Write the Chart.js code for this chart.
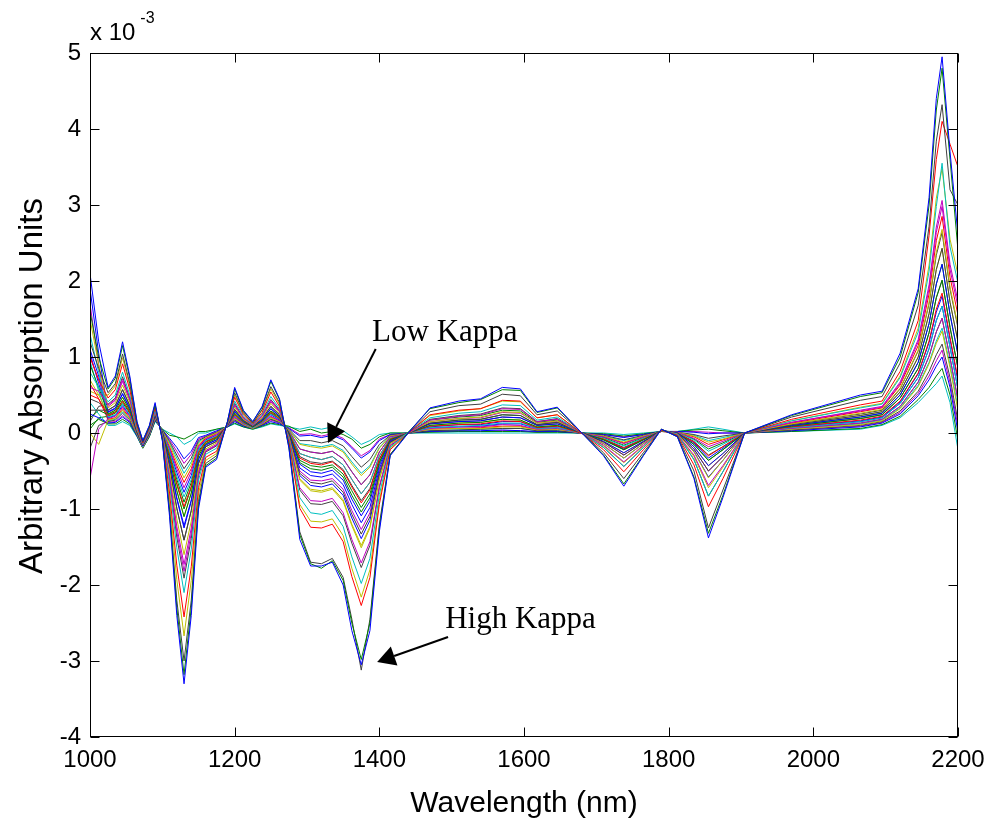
<!DOCTYPE html>
<html>
<head>
<meta charset="utf-8">
<title>NIR difference spectra</title>
<script src="https://cdn.jsdelivr.net/npm/chart.js@4.4.1/dist/chart.umd.min.js"></script>
<style>
  html, body { margin: 0; padding: 0; background: #ffffff; }
  canvas { display: block; }
</style>
</head>
<body>
<canvas id="spectra" width="1000" height="824"></canvas>
<script>
// Wavelength grid (nm)
const wavelength = [
  1000,1012,1025,1035,1045,1055,1065,1073,1082,1090,
  1100,1110,1120,1130,1140,1150,1160,1175,1190,1200,
  1212,1225,1238,1250,1262,1275,1290,1305,1320,1335,
  1350,1362,1375,1387,1400,1415,1440,1470,1510,1540,
  1570,1595,1618,1646,1678,1710,1738,1765,1790,1812,
  1835,1855,1875,1905,1970,2065,2095,2120,2145,2160,
  2170,2178,2189,2200
];

// Absorption spectra, units of 1e-3
const s01 = [2.1,1.2,0.6,0.75,1.2,0.75,0.15,-0.1,0.1,0.4, -0.1,-1.1,-2.4,-3.3,-2.4,-1.0,-0.45,-0.35,0.15,0.6, 0.3,0.15,0.35,0.7,0.45,-0.2,-1.4,-1.75,-1.75,-1.7, -2.0,-2.6,-3.05,-2.6,-1.3,-0.3,0.0,0.33,0.42,0.45, 0.6,0.58,0.28,0.34,0.02,-0.3,-0.7,-0.3,0.05,-0.05, -0.6,-1.38,-0.85,0.0,0.24,0.5,0.55,1.05,1.9,3.1, 4.4,4.95,3.7,2.6];
const s02 = [1.6,1.0,0.58,0.72,1.15,0.72,0.14,-0.1,0.09,0.38, -0.09,-1.05,-2.3,-3.18,-2.3,-0.96,-0.43,-0.33,0.15,0.58, 0.29,0.15,0.34,0.68,0.44,-0.19,-1.34,-1.72,-1.78,-1.68, -1.94,-2.5,-2.98,-2.5,-1.25,-0.29,0.01,0.32,0.4,0.44, 0.57,0.56,0.27,0.33,0.02,-0.29,-0.67,-0.29,0.05,-0.05, -0.58,-1.32,-0.82,0.0,0.23,0.48,0.53,1.0,1.85,3.0, 4.25,4.8,3.6,2.4];
const s03 = [1.2,0.85,0.53,0.65,1.04,0.65,0.12,-0.12,0.08,0.36, -0.08,-1.0,-2.2,-3.0,-2.2,-0.9,-0.4,-0.3,0.14,0.53, 0.27,0.13,0.31,0.61,0.4,-0.16,-1.3,-1.7,-1.72,-1.65, -1.9,-2.45,-3.12,-2.45,-1.2,-0.28,0.0,0.28,0.36,0.38, 0.51,0.49,0.24,0.29,0.02,-0.26,-0.6,-0.26,0.05,-0.04, -0.5,-1.25,-0.75,0.0,0.21,0.43,0.48,0.92,1.68,2.72, 3.84,4.32,3.2,3.0];
const s04 = [1.0,0.7,0.46,0.57,0.91,0.57,0.09,-0.13,0.06,0.33, -0.06,-0.79,-1.74,-2.42,-1.76,-0.72,-0.32,-0.24,0.13,0.47, 0.24,0.12,0.27,0.54,0.35,-0.12,-0.99,-1.24,-1.25,-1.2, -1.43,-1.89,-2.27,-1.9,-0.94,-0.22,0.0,0.24,0.3,0.32, 0.43,0.42,0.2,0.24,0.01,-0.22,-0.51,-0.22,0.04,-0.03, -0.42,-0.97,-0.6,0.0,0.18,0.37,0.42,0.81,1.48,2.6, 3.6,4.1,3.8,3.5];
const s05 = [0.8,0.6,0.41,0.5,0.8,0.5,0.07,-0.14,0.04,0.3, -0.04,-0.68,-1.51,-2.1,-1.53,-0.62,-0.28,-0.2,0.12,0.42, 0.22,0.11,0.25,0.48,0.32,-0.09,-0.85,-1.05,-1.07,-1.02, -1.23,-1.63,-1.98,-1.65,-0.81,-0.19,0.01,0.2,0.26,0.28, 0.37,0.36,0.17,0.21,0.01,-0.19,-0.44,-0.19,0.04,-0.02, -0.35,-0.83,-0.51,0.0,0.16,0.33,0.38,0.73,1.33,2.13, 2.98,3.55,2.45,1.97];
const s06 = [0.6,0.55,0.37,0.44,0.71,0.44,0.06,-0.15,0.03,0.28, -0.03,-0.58,-1.3,-1.82,-1.32,-0.53,-0.24,-0.16,0.12,0.37, 0.2,0.1,0.22,0.43,0.29,-0.07,-0.72,-0.89,-0.9,-0.86, -1.05,-1.4,-1.71,-1.43,-0.7,-0.16,0.0,0.17,0.22,0.24, 0.32,0.31,0.15,0.18,0.01,-0.16,-0.38,-0.16,0.04,-0.02, -0.29,-0.69,-0.43,0.0,0.14,0.29,0.34,0.65,1.2,1.9, 2.64,2.98,2.15,1.66];
const s07 = [1.5,0.9,0.33,0.4,0.63,0.4,0.04,-0.15,0.02,0.27, -0.02,-0.51,-1.13,-1.6,-1.16,-0.46,-0.21,-0.13,0.11,0.34, 0.18,0.1,0.2,0.39,0.26,-0.05,-0.62,-0.76,-0.78,-0.74, -0.9,-1.22,-1.51,-1.25,-0.61,-0.14,0.0,0.15,0.19,0.21, 0.28,0.27,0.13,0.16,0.01,-0.14,-0.33,-0.14,0.03,-0.01, -0.25,-0.59,-0.36,0.0,0.12,0.26,0.31,0.59,1.09,1.72, 2.38,2.68,1.92,1.41];
const s08 = [0.3,0.3,0.3,0.36,0.57,0.36,0.03,-0.16,0.01,0.25, -0.01,-0.44,-0.99,-1.41,-1.02,-0.4,-0.18,-0.11,0.11,0.31, 0.17,0.09,0.19,0.35,0.24,-0.03,-0.53,-0.65,-0.67,-0.63, -0.78,-1.07,-1.33,-1.1,-0.53,-0.12,0.0,0.13,0.17,0.18, 0.24,0.23,0.11,0.14,0.01,-0.12,-0.29,-0.12,0.03,-0.01, -0.21,-0.5,-0.31,0.0,0.11,0.23,0.28,0.54,1.0,1.57, 2.15,2.43,1.72,1.2];
const s09 = [1.9,1.05,0.28,0.33,0.52,0.33,0.02,-0.17,0.0,0.24, 0.0,-0.39,-0.87,-1.25,-0.9,-0.35,-0.16,-0.09,0.1,0.29, 0.16,0.09,0.17,0.32,0.22,-0.02,-0.46,-0.56,-0.58,-0.54, -0.68,-0.94,-1.18,-0.98,-0.47,-0.11,0.0,0.12,0.15,0.16, 0.21,0.2,0.1,0.12,0.01,-0.11,-0.26,-0.11,0.03,0.0, -0.18,-0.43,-0.27,0.0,0.1,0.21,0.26,0.5,0.93,1.44, 1.96,2.22,1.56,1.03];
const s10 = [0.9,0.6,0.25,0.3,0.47,0.3,0.01,-0.17,0.0,0.23, 0.01,-0.33,-0.76,-1.1,-0.79,-0.3,-0.14,-0.07,0.1,0.26, 0.15,0.08,0.16,0.29,0.21,0.0,-0.39,-0.47,-0.49,-0.45, -0.58,-0.82,-1.04,-0.85,-0.4,-0.09,0.0,0.1,0.13,0.14, 0.18,0.17,0.08,0.1,0.01,-0.09,-0.22,-0.09,0.03,0.0, -0.15,-0.36,-0.22,0.0,0.09,0.19,0.24,0.46,0.85,1.32, 1.78,2.01,1.39,0.85];
const s11 = [0.5,0.45,0.23,0.27,0.42,0.27,0.0,-0.17,-0.01,0.22, 0.01,-0.29,-0.66,-0.97,-0.7,-0.26,-0.12,-0.05,0.1,0.24, 0.14,0.08,0.15,0.27,0.19,0.01,-0.33,-0.4,-0.42,-0.38, -0.5,-0.71,-0.92,-0.75,-0.35,-0.08,0.0,0.09,0.11,0.12, 0.16,0.15,0.07,0.09,0.0,-0.08,-0.2,-0.08,0.03,0.0, -0.12,-0.3,-0.18,0.0,0.08,0.17,0.22,0.42,0.79,1.21, 1.63,1.84,1.26,0.71];
const s12 = [1.3,0.8,0.21,0.24,0.38,0.24,-0.01,-0.18,-0.02,0.21, 0.02,-0.24,-0.57,-0.84,-0.61,-0.22,-0.1,-0.04,0.1,0.23, 0.13,0.07,0.14,0.25,0.18,0.02,-0.27,-0.32,-0.35,-0.31, -0.42,-0.61,-0.8,-0.65,-0.3,-0.07,0.0,0.07,0.09,0.1, 0.13,0.13,0.06,0.07,0.0,-0.07,-0.17,-0.07,0.03,0.0, -0.09,-0.24,-0.15,0.0,0.07,0.15,0.2,0.39,0.73,1.11, 1.48,1.67,1.13,0.57];
const s13 = [-0.6,0.05,0.19,0.22,0.34,0.22,-0.01,-0.18,-0.02,0.2, 0.02,-0.2,-0.47,-0.72,-0.51,-0.18,-0.08,-0.02,0.09,0.21, 0.12,0.07,0.13,0.22,0.16,0.03,-0.21,-0.25,-0.27,-0.24, -0.34,-0.51,-0.68,-0.55,-0.25,-0.05,0.0,0.06,0.08,0.08, 0.11,0.1,0.05,0.06,0.0,-0.05,-0.14,-0.05,0.02,0.01, -0.07,-0.18,-0.11,0.0,0.06,0.13,0.18,0.35,0.67,1.01, 1.33,1.51,0.99,0.43];
const s14 = [0.0,-0.15,0.17,0.19,0.3,0.19,-0.02,-0.19,-0.03,0.19, 0.03,-0.15,-0.38,-0.59,-0.42,-0.14,-0.06,0.0,0.09,0.19, 0.11,0.06,0.12,0.2,0.15,0.04,-0.15,-0.18,-0.2,-0.17, -0.25,-0.41,-0.56,-0.45,-0.2,-0.04,0.0,0.05,0.06,0.06, 0.08,0.08,0.04,0.05,0.0,-0.04,-0.12,-0.04,0.02,0.01, -0.04,-0.12,-0.08,0.0,0.05,0.11,0.16,0.32,0.61,0.91, 1.18,1.34,0.86,0.29];
const s15 = [-0.2,0.1,0.15,0.17,0.26,0.17,-0.03,-0.19,-0.04,0.18, 0.04,-0.11,-0.29,-0.47,-0.33,-0.1,-0.05,0.01,0.09,0.17, 0.1,0.06,0.11,0.18,0.14,0.05,-0.1,-0.1,-0.13,-0.1, -0.17,-0.31,-0.45,-0.35,-0.15,-0.03,0.0,0.03,0.04,0.05, 0.06,0.06,0.03,0.03,0.0,-0.03,-0.09,-0.03,0.02,0.01, -0.02,-0.07,-0.04,0.0,0.04,0.1,0.15,0.29,0.55,0.81, 1.03,1.17,0.73,0.15];
const s16 = [0.25,0.2,0.13,0.14,0.21,0.14,-0.04,-0.19,-0.04,0.17, 0.04,-0.07,-0.19,-0.34,-0.24,-0.06,-0.03,0.03,0.08,0.15, 0.09,0.06,0.1,0.15,0.12,0.06,-0.04,-0.03,-0.06,-0.03, -0.09,-0.2,-0.33,-0.25,-0.1,-0.02,0.0,0.02,0.03,0.03, 0.04,0.03,0.02,0.02,0.0,-0.02,-0.06,-0.02,0.02,0.02, 0.01,-0.01,0.0,0.0,0.03,0.08,0.13,0.25,0.49,0.7, 0.88,1.0,0.6,0.01];
const s17 = [0.1,0.18,0.12,0.12,0.18,0.12,-0.04,-0.2,-0.05,0.16, 0.05,-0.03,-0.05,-0.08,-0.03,0.02,0.02,0.05,0.08,0.13, 0.08,0.05,0.09,0.13,0.11,0.09,0.02,0.05,0.0,0.02, -0.02,-0.08,-0.2,-0.15,-0.05,0.0,0.0,0.01,0.02,0.02, 0.02,0.02,0.01,0.01,0.0,-0.01,-0.04,-0.01,0.02,0.02, 0.04,0.05,0.03,0.0,0.02,0.06,0.11,0.22,0.44,0.6, 0.75,0.85,0.5,-0.1];
const s18 = [0.4,0.25,0.1,0.1,0.15,0.1,-0.05,-0.2,-0.05,0.15, 0.05,0.0,-0.05,-0.15,-0.1,0.0,0.0,0.05,0.08,0.12, 0.08,0.05,0.08,0.12,0.1,0.08,0.05,0.08,0.05,0.08, 0.03,-0.05,-0.15,-0.1,-0.02,0.0,0.0,0.0,0.0,0.0, 0.0,0.0,0.0,0.0,0.0,0.0,-0.02,0.0,0.02,0.02, 0.05,0.08,0.05,0.0,0.02,0.05,0.1,0.2,0.4,0.55, 0.65,0.75,0.4,-0.22];
const s19 = [1.0,0.7,0.35,0.43,0.68,0.43,0.05,-0.15,0.03,0.28, -0.03,-0.55,-1.23,-1.73,-1.25,-0.5,-0.23,-0.15,0.12,0.36, 0.19,0.1,0.22,0.41,0.28,-0.03,-0.5,-0.62,-0.63,-0.6, -0.74,-1.02,-1.27,-1.05,-0.51,-0.11,0.0,0.15,0.19,0.2, 0.27,0.26,0.13,0.15,0.01,-0.12,-0.29,-0.12,0.03,-0.01, -0.21,-0.5,-0.31,0.0,0.14,0.3,0.35,0.67,1.23,1.95, 2.71,3.06,2.22,1.73];
const s20 = [0.7,0.5,0.25,0.3,0.47,0.3,0.01,-0.17,-0.01,0.23, 0.01,-0.33,-0.76,-1.1,-0.79,-0.3,-0.14,-0.07,0.1,0.26, 0.15,0.08,0.16,0.29,0.21,-0.05,-0.6,-0.74,-0.76,-0.72, -0.88,-1.2,-1.48,-1.23,-0.6,-0.14,0.0,0.1,0.13,0.14, 0.18,0.17,0.08,0.1,0.01,-0.11,-0.26,-0.11,0.03,0.0, -0.18,-0.43,-0.27,0.0,0.11,0.23,0.28,0.54,1.0,1.57, 2.15,2.43,1.72,1.2];
const s21 = [0.45,0.4,0.3,0.36,0.57,0.36,0.03,-0.16,0.01,0.25, -0.01,-0.44,-0.99,-1.41,-1.02,-0.4,-0.18,-0.11,0.11,0.31, 0.17,0.09,0.19,0.35,0.24,0.01,-0.31,-0.38,-0.4,-0.37, -0.48,-0.69,-0.89,-0.73,-0.34,-0.08,0.0,0.12,0.15,0.16, 0.21,0.2,0.1,0.12,0.01,-0.08,-0.19,-0.08,0.03,0.0, -0.11,-0.29,-0.18,0.0,0.09,0.19,0.24,0.46,0.85,1.32, 1.78,2.01,1.39,0.85];
const s22 = [1.1,0.75,0.2,0.23,0.36,0.23,-0.01,-0.18,-0.02,0.2, 0.02,-0.22,-0.52,-0.78,-0.56,-0.2,-0.09,-0.03,0.09,0.22, 0.12,0.07,0.13,0.24,0.17,-0.01,-0.41,-0.51,-0.53,-0.49, -0.62,-0.87,-1.09,-0.9,-0.43,-0.1,0.0,0.07,0.08,0.09, 0.12,0.12,0.06,0.07,0.0,-0.08,-0.21,-0.08,0.03,0.0, -0.13,-0.33,-0.2,0.0,0.07,0.15,0.2,0.39,0.73,1.11, 1.48,1.67,1.13,0.57];
const s23 = [0.2,0.3,0.24,0.28,0.43,0.28,0.0,-0.17,-0.01,0.22, 0.01,-0.3,-0.68,-1.0,-0.72,-0.27,-0.12,-0.06,0.1,0.25, 0.14,0.08,0.15,0.28,0.19,0.03,-0.21,-0.25,-0.27,-0.24, -0.34,-0.51,-0.68,-0.55,-0.25,-0.05,0.0,0.17,0.21,0.23, 0.3,0.29,0.14,0.17,0.01,-0.06,-0.16,-0.06,0.03,0.01, -0.08,-0.21,-0.13,0.0,0.1,0.21,0.26,0.5,0.93,1.44, 1.96,2.22,1.56,1.03];
const s24 = [0.65,0.45,0.18,0.2,0.32,0.2,-0.02,-0.18,-0.03,0.19, 0.03,-0.18,-0.43,-0.65,-0.47,-0.16,-0.07,-0.01,0.09,0.2, 0.12,0.07,0.12,0.21,0.16,0.02,-0.27,-0.32,-0.35,-0.31, -0.42,-0.61,-0.8,-0.65,-0.3,-0.07,0.0,0.05,0.06,0.07, 0.09,0.09,0.04,0.05,0.0,-0.05,-0.13,-0.05,0.02,0.01, -0.05,-0.15,-0.09,0.0,0.13,0.28,0.33,0.63,1.15,1.83, 2.53,2.85,2.05,1.55];
const s25 = [0.95,0.55,0.16,0.18,0.28,0.18,-0.03,-0.19,-0.03,0.18, 0.03,-0.13,-0.33,-0.53,-0.38,-0.12,-0.05,0.0,0.09,0.18, 0.11,0.06,0.11,0.19,0.14,0.04,-0.14,-0.16,-0.18,-0.15, -0.23,-0.38,-0.53,-0.43,-0.19,-0.04,0.0,0.03,0.04,0.05, 0.06,0.06,0.03,0.03,0.0,-0.04,-0.1,-0.04,0.02,0.01, -0.03,-0.1,-0.06,0.0,0.05,0.12,0.17,0.33,0.63,0.93, 1.21,1.38,0.9,0.33];
const s26 = [1.7,0.9,0.14,0.15,0.23,0.15,-0.03,-0.19,-0.04,0.17, 0.04,-0.09,-0.24,-0.4,-0.28,-0.08,-0.04,0.02,0.09,0.16, 0.1,0.06,0.1,0.17,0.13,0.07,-0.02,-0.01,-0.04,-0.01, -0.07,-0.18,-0.3,-0.23,-0.08,-0.02,0.0,0.02,0.02,0.02, 0.03,0.03,0.01,0.02,0.0,-0.02,-0.05,-0.02,0.02,0.02, 0.02,0.01,0.0,0.0,0.04,0.09,0.14,0.27,0.52,0.75, 0.95,1.09,0.66,0.08];
const s27 = [0.55,0.5,0.5,0.62,0.99,0.62,0.11,-0.12,0.07,0.35, -0.07,-0.88,-1.93,-2.67,-1.94,-0.8,-0.36,-0.27,0.14,0.5, 0.26,0.13,0.3,0.58,0.38,-0.11,-0.94,-1.16,-1.17,-1.13, -1.35,-1.78,-2.16,-1.8,-0.89,-0.2,0.0,0.23,0.29,0.32, 0.42,0.41,0.2,0.24,0.01,-0.17,-0.39,-0.17,0.04,-0.02, -0.31,-0.72,-0.45,0.0,0.16,0.34,0.39,0.75,1.38,2.21, 3.09,3.48,2.55,2.08];
const s28 = [0.15,0.35,0.38,0.46,0.74,0.46,0.06,-0.14,0.03,0.29, -0.03,-0.62,-1.37,-1.91,-1.39,-0.56,-0.25,-0.17,0.12,0.39, 0.2,0.11,0.23,0.44,0.3,-0.07,-0.75,-0.93,-0.94,-0.9, -1.09,-1.45,-1.77,-1.48,-0.72,-0.17,0.0,0.18,0.23,0.25, 0.33,0.32,0.15,0.19,0.01,-0.19,-0.44,-0.19,0.04,-0.02, -0.35,-0.83,-0.51,0.0,0.12,0.25,0.3,0.58,1.08,1.7, 2.34,2.64,1.89,1.38];
const s29 = [1.05,0.65,0.27,0.32,0.51,0.32,0.02,-0.17,0.0,0.24, 0.0,-0.37,-0.85,-1.22,-0.88,-0.34,-0.15,-0.09,0.1,0.28, 0.16,0.08,0.17,0.32,0.22,-0.04,-0.56,-0.69,-0.71,-0.67, -0.82,-1.12,-1.39,-1.15,-0.56,-0.13,0.0,0.08,0.11,0.11, 0.15,0.15,0.07,0.09,0.01,-0.14,-0.33,-0.14,0.03,-0.01, -0.24,-0.58,-0.36,0.0,0.08,0.16,0.21,0.41,0.78,1.19, 1.59,1.8,1.23,0.68];
const s30 = [0.05,0.2,0.22,0.26,0.4,0.26,0.0,-0.18,-0.01,0.21, 0.01,-0.26,-0.61,-0.91,-0.65,-0.24,-0.11,-0.05,0.1,0.24, 0.13,0.07,0.14,0.26,0.18,0.0,-0.36,-0.43,-0.45,-0.42, -0.54,-0.76,-0.98,-0.8,-0.38,-0.08,0.0,0.13,0.17,0.18, 0.24,0.23,0.11,0.14,0.01,-0.09,-0.22,-0.09,0.03,0.0, -0.15,-0.36,-0.22,0.0,0.06,0.13,0.18,0.35,0.67,1.01, 1.33,1.51,0.99,0.43];

const spectra = [
  s01,s02,s03,s04,s05,s06,s07,s08,s09,s10,
  s11,s12,s13,s14,s15,s16,s17,s18,s19,s20,
  s21,s22,s23,s24,s25,s26,s27,s28,s29,s30
];

// Classic line colour order: b g r c m y k
const seriesColors = [
  '#0000ff','#008000','#404040','#ff0000','#00bfbf','#bf00bf','#bfbf00','#404040','#0000ff','#008000',
  '#ff0000','#00bfbf','#bf00bf','#bfbf00','#404040','#0000ff','#008000','#00bfbf','#bf00bf','#bfbf00',
  '#404040','#0000ff','#008000','#ff0000','#00bfbf','#bf00bf','#bfbf00','#404040','#0000ff','#008000'
];

const xTicks = [1000,1200,1400,1600,1800,2000,2200];
const yTicks = [-4,-3,-2,-1,0,1,2,3,4,5];

const xTitle = 'Wavelength (nm)';
const yTitle = 'Arbitrary Absorption Units';
const notes = [
  { text: 'Low Kappa',  at: [1390, 1.21],  from: [1395, 1.105],  to: [1329, -0.13] },
  { text: 'High Kappa', at: [1491, -2.566], from: [1495, -2.684], to: [1397, -3.013] }
];

const SANS = '"Liberation Sans", Arial, Helvetica, sans-serif';
const SERIF = '"Liberation Serif", "Times New Roman", serif';

const frame = {
  id: 'frame',
  afterDraw(chart) {
    const { ctx, chartArea: a, scales } = chart;
    const xs = scales.x, ys = scales.y;
    const L = Math.round(a.left) + 0.5, R = Math.round(a.right) - 0.5;
    const T = Math.round(a.top) + 0.5, B = Math.round(a.bottom) - 0.5;
    ctx.save();
    ctx.strokeStyle = '#000';
    ctx.lineWidth = 1;
    ctx.strokeRect(L, T, R - L, B - T);
    // inward tick marks on all four sides
    const tl = 9;
    ctx.beginPath();
    xTicks.forEach(v => {
      const p = Math.round(xs.getPixelForValue(v)) + 0.5;
      ctx.moveTo(p, B); ctx.lineTo(p, B - tl);
      ctx.moveTo(p, T); ctx.lineTo(p, T + tl);
    });
    yTicks.forEach(v => {
      const p = Math.round(ys.getPixelForValue(v)) + 0.5;
      ctx.moveTo(L, p); ctx.lineTo(L + tl, p);
      ctx.moveTo(R, p); ctx.lineTo(R - tl, p);
    });
    ctx.stroke();

    // exponent label
    ctx.fillStyle = '#000';
    ctx.textAlign = 'left';
    ctx.textBaseline = 'alphabetic';
    ctx.font = '24px ' + SANS;
    ctx.fillText('x 10', a.left, 40);
    const w = ctx.measureText('x 10').width;
    ctx.font = '16px ' + SANS;
    ctx.fillText('-3', a.left + w + 5, 23);

    // axis titles
    ctx.font = '30px ' + SANS;
    ctx.textAlign = 'center';
    ctx.fillText(xTitle, (a.left + a.right) / 2, 812);
    ctx.save();
    ctx.font = '33px ' + SANS;
    ctx.translate(42, 386);
    ctx.rotate(-Math.PI / 2);
    ctx.fillText(yTitle, 0, 0);
    ctx.restore();

    // annotations with arrows
    ctx.font = '31px ' + SERIF;
    ctx.textAlign = 'left';
    notes.forEach(n => {
      ctx.fillText(n.text, xs.getPixelForValue(n.at[0]), ys.getPixelForValue(n.at[1]));
      const x0 = xs.getPixelForValue(n.from[0]), y0 = ys.getPixelForValue(n.from[1]);
      const x1 = xs.getPixelForValue(n.to[0]), y1 = ys.getPixelForValue(n.to[1]);
      const len = Math.hypot(x1 - x0, y1 - y0);
      const ux = (x1 - x0) / len, uy = (y1 - y0) / len;
      const hl = 18, hw = 10;
      const bx = x1 - ux * hl, by = y1 - uy * hl;
      ctx.lineWidth = 2;
      ctx.beginPath();
      ctx.moveTo(x0, y0); ctx.lineTo(bx, by);
      ctx.stroke();
      ctx.beginPath();
      ctx.moveTo(x1, y1);
      ctx.lineTo(bx - uy * hw, by + ux * hw);
      ctx.lineTo(bx + uy * hw, by - ux * hw);
      ctx.closePath();
      ctx.fill();
    });
    ctx.restore();
  }
};

new Chart(document.getElementById('spectra'), {
  type: 'line',
  data: {
    datasets: spectra.map((s, i) => ({
      data: wavelength.map((w, j) => ({ x: w, y: s[j] })),
      borderColor: seriesColors[i],
      borderWidth: 1,
      pointRadius: 0,
      tension: 0,
      fill: false
    }))
  },
  options: {
    responsive: false,
    animation: false,
    devicePixelRatio: 1,
    layout: { padding: { left: 0, top: 53, right: 42, bottom: 0 } },
    plugins: { legend: { display: false }, tooltip: { enabled: false } },
    scales: {
      x: {
        type: 'linear', min: 1000, max: 2200,
        afterBuildTicks(s) { s.ticks = xTicks.map(v => ({ value: v })); },
        afterFit(s) { s.height = 87; },
        grid: { display: false, drawTicks: false },
        border: { display: false },
        ticks: { color: '#000', font: { family: SANS, size: 24 }, padding: 9, maxRotation: 0, autoSkip: false,
                 callback: v => String(v) }
      },
      y: {
        type: 'linear', min: -4, max: 5,
        afterBuildTicks(s) { s.ticks = yTicks.map(v => ({ value: v })); },
        afterFit(s) { s.width = 90; },
        grid: { display: false, drawTicks: false },
        border: { display: false },
        ticks: { color: '#000', font: { family: SANS, size: 24 }, padding: 9, autoSkip: false,
                 callback: v => String(v) }
      }
    }
  },
  plugins: [frame]
});
</script>
</body>
</html>
